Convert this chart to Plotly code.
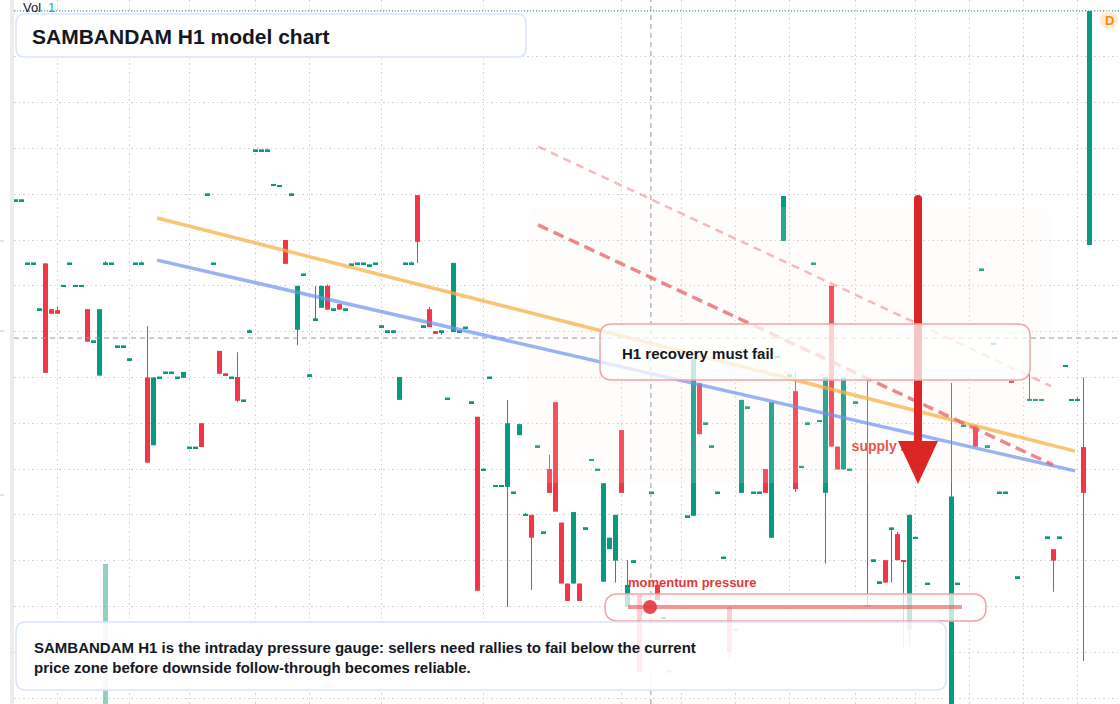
import plotly.graph_objects as go

W, H = 1120, 704
UP, DOWN = "#089981", "#f23645"
FONT = "Liberation Sans, Arial, sans-serif"

# ---- candles (bar index, price; one grid step = 10) ----
# flat bars: open == high == low == close
doji_idx = [1, 2, 3, 4, 5, 9, 10, 11, 12, 14, 17, 18, 19, 20, 21, 25, 26, 27, 28,
            30, 31, 33, 34, 37, 39, 41, 42, 43, 44, 45, 47, 49, 50, 54, 56, 57, 58,
            59, 60, 61, 62, 63, 64, 66, 69, 73, 75, 76, 77, 79, 80, 81, 82, 84, 88,
            89, 96, 97, 98, 104, 107, 109, 113, 116, 117, 118, 119, 121, 123, 124,
            125, 128, 130, 132, 133, 134, 135, 140, 141, 144, 145, 151, 153, 158,
            159, 162, 163, 164, 165, 166, 168, 171, 172, 173, 175, 176, 177]
doji_px = [208.7, 208.7, 194.9, 194.9, 184.9, 190.0, 194.9, 190.0, 190.0, 177.9,
           194.9, 176.8, 176.8, 174.0, 194.9, 170.0, 171.1, 171.1, 170.0,
           154.7, 154.7, 210.0, 194.9, 170.0, 165.0, 219.6, 219.6, 219.6, 212.0,
           211.8, 210.0, 192.5, 170.5, 184.9, 184.9, 194.7, 194.9,
           194.9, 194.5, 194.9, 181.2, 180.1, 180.1, 194.9, 181.2, 165.4, 180.1,
           180.9, 164.6, 149.9, 170.0, 146.3, 146.3, 144.9, 155.0,
           136.2, 137.1, 152.0, 149.9, 129.9, 144.9, 117.5, 139.7, 160.0, 155.0,
           144.9, 130.7, 115.0, 163.5, 144.9,
           144.9, 174.5, 170.5, 150.5, 160.0, 194.9, 160.5, 149.9, 164.6, 130.1,
           125.3, 135.0, 125.0, 125.0,
           159.5, 193.6, 155.0, 177.4, 144.9, 144.9, 126.4, 165.1, 165.1, 135.1,
           135.1, 172.5, 165.1]

bar_idx = [6, 7, 8, 13, 15, 16, 22, 23, 24, 29,
           32, 35, 36, 38, 40, 46, 48, 51, 52, 53,
           55, 65, 67, 68, 70, 71, 72, 74, 78, 83,
           85, 86, 87, 90, 91, 92, 93, 94, 95, 99,
           100, 101, 102, 103, 105, 108, 110, 114, 115, 120,
           122, 126, 127, 129, 131, 136, 137, 138, 139, 143,
           146, 147, 148, 149, 150, 157, 161, 167, 170, 174,
           178, 179, 180]
bar_open = [194.9, 184.9, 184.7, 184.9, 170.4, 194.9, 194.9, 170.0, 155.2, 169.9,
            160.0, 175.8, 170.8, 170.1, 180.1, 200.0, 180.4, 182.7, 185.2, 190.0,
            186.0, 165.1, 194.9, 209.8, 184.9, 180.1, 180.1, 179.9, 161.4, 146.1,
            157.4, 140.0, 140.0, 150.0, 164.6, 138.3, 125.0, 125.0, 125.0, 125.4,
            132.5, 130.0, 158.5, 119.9, 122.5, 124.7, 106.1, 139.8, 168.7, 119.9,
            144.8, 150.0, 135.0, 199.8, 167.0, 144.8, 190.0, 154.9, 149.9, 119.9,
            130.1, 136.9, 135.8, 130.1, 114.9, 97.0, 159.5, 169.3, 165.1, 132.5,
            165.1, 154.8, 198.9]
bar_high = [194.9, 184.9, 185.4, 184.9, 184.9, 195.4, 195.3, 181.2, 170.0, 171.2,
            160.0, 175.8, 170.8, 175.5, 180.5, 200.0, 190.0, 190.0, 190.0, 190.3,
            186.0, 170.1, 195.3, 209.8, 185.4, 180.1, 180.1, 195.0, 161.4, 165.1,
            159.8, 140.4, 140.0, 153.1, 164.6, 138.3, 125.0, 140.6, 125.0, 146.9,
            135.0, 140.0, 158.5, 130.1, 122.5, 124.7, 106.1, 174.2, 168.7, 119.9,
            165.1, 150.0, 164.6, 209.6, 171.2, 170.1, 190.0, 154.9, 170.0, 170.1,
            130.1, 137.2, 136.3, 130.1, 140.0, 168.8, 159.5, 169.3, 172.5, 132.5,
            165.6, 170.0, 250.0]
bar_low = [171.0, 183.9, 183.9, 177.8, 170.4, 194.9, 194.9, 151.4, 155.2, 169.9,
           154.8, 170.8, 170.6, 164.6, 180.1, 194.8, 177.1, 182.7, 185.2, 184.8,
           184.8, 165.1, 194.9, 195.0, 181.0, 179.5, 179.3, 179.9, 123.4, 119.9,
           157.4, 140.0, 123.6, 144.8, 140.7, 125.0, 121.2, 125.0, 121.2, 125.4,
           132.5, 125.2, 144.8, 119.9, 105.7, 121.4, 105.6, 139.8, 157.6, 108.7,
           144.8, 144.8, 135.0, 199.8, 145.0, 129.4, 154.9, 149.9, 149.9, 119.9,
           125.2, 125.2, 130.1, 111.2, 111.4, 97.0, 154.9, 168.8, 165.1, 123.2,
           165.1, 108.1, 198.9]
bar_close = [171.0, 183.9, 183.9, 177.8, 184.9, 194.9, 194.9, 151.4, 170.0, 171.2,
             154.8, 170.8, 170.6, 164.9, 180.1, 194.8, 190.0, 182.7, 190.0, 184.8,
             184.8, 170.1, 194.9, 199.6, 181.0, 179.5, 180.1, 195.0, 123.4, 160.0,
             159.8, 140.0, 135.0, 144.8, 140.7, 125.0, 121.2, 140.6, 121.2, 146.9,
             135.0, 140.0, 144.8, 124.7, 105.7, 121.4, 105.6, 174.2, 157.6, 110.0,
             165.1, 144.8, 164.6, 209.6, 145.6, 170.1, 154.9, 149.9, 170.0, 120.3,
             125.2, 137.2, 130.1, 129.8, 140.0, 144.0, 154.9, 168.8, 165.1, 130.0,
             165.1, 144.8, 250.0]

vol_idx = [16]
vol = [1.0]

time_grid = [8, 20, 30, 41, 50, 62, 79, 102, 112, 121, 130, 141, 151, 160, 169, 178]
last_close = 250.0
cross_idx, cross_px = 106.9, 178.6

# drawings: (bar index, price)
orange_line = [(24.6, 204.8), (177.6, 153.9)]
blue_line = [(24.6, 195.6), (177.6, 149.6)]
red_dash = [(88.1, 203.3), (173.9, 150.9)]
red_dash_light = [(88.1, 220.4), (173.6, 168.1)]

X_RANGE = [0.75, 185.083]
Y_RANGE = [98.7, 252.4]


def px_x(px):
    return (px - 14) / 1106


def px_y(py):
    return 1 - py / 704


def rbox(x0, y0, x1, y1, r):
    def P(x, y):
        return "%.5f,%.5f" % (px_x(x), px_y(y))
    return ("M" + P(x0 + r, y0) + " L" + P(x1 - r, y0) + " Q" + P(x1, y0) + " " + P(x1, y0 + r)
            + " L" + P(x1, y1 - r) + " Q" + P(x1, y1) + " " + P(x1 - r, y1)
            + " L" + P(x0 + r, y1) + " Q" + P(x0, y1) + " " + P(x0, y1 - r)
            + " L" + P(x0, y0 + r) + " Q" + P(x0, y0) + " " + P(x0 + r, y0) + " Z")


idx = bar_idx + doji_idx
o = bar_open + doji_px
h = bar_high + doji_px
l = bar_low + doji_px
c = bar_close + doji_px

base, height, colors = [], [], []
wick = {UP: ([], []), DOWN: ([], [])}
for i, oo, hh, ll, cc in zip(idx, o, h, l, c):
    lo, hi = min(oo, cc), max(oo, cc)
    if hi - lo < 0.4:
        mid = (lo + hi) / 2
        lo, hi = mid - 0.2, mid + 0.2
    col = UP if cc >= oo else DOWN
    base.append(lo)
    height.append(hi - lo)
    colors.append(col)
    if hh - ll > 0.1:
        wick[col][0].extend([i, i, None])
        wick[col][1].extend([ll, hh, None])

fig = go.Figure()
for col, (wx, wy) in wick.items():
    fig.add_trace(go.Scatter(x=wx, y=wy, mode="lines", line=dict(color=col, width=1),
                             hoverinfo="skip", showlegend=False))
fig.add_trace(go.Bar(x=idx, y=height, base=base, width=0.83, marker_color=colors,
                     marker_line_width=0, showlegend=False))
fig.add_trace(go.Bar(x=vol_idx, y=vol, width=0.83, yaxis="y2",
                     marker_color="rgba(8,153,129,0.45)", marker_line_width=0,
                     showlegend=False))
# label sitting under the arrow head
fig.add_trace(go.Scatter(x=[140.35], y=[154.6], mode="text", text=["supply zone"],
                         textposition="middle right",
                         textfont=dict(family=FONT, size=14, color="#e53935", weight=700),
                         showlegend=False, hoverinfo="skip"))

shapes = []
# supply zone
shapes.append(dict(type="path", xref="paper", yref="paper", path=rbox(527, 207, 1052, 483, 18),
                   fillcolor="rgba(255,244,238,0.15)", line_width=0, layer="above"))
# crosshair
shapes.append(dict(type="line", xref="x", yref="paper", x0=cross_idx, x1=cross_idx, y0=0, y1=1,
                   line=dict(color="#9598a1", width=1, dash="5px,4px"), layer="above"))
shapes.append(dict(type="line", xref="paper", yref="y", x0=0, x1=1, y0=cross_px, y1=cross_px,
                   line=dict(color="#9598a1", width=1, dash="5px,4px"), layer="above"))
# last price line
shapes.append(dict(type="line", xref="paper", yref="y", x0=0, x1=1, y0=last_close, y1=last_close,
                   line=dict(color=UP, width=1, dash="1px,2px"), layer="above"))
# trend lines
for pts, col, wd, ds in [(orange_line, "rgba(247,178,70,0.75)", 3.5, "solid"),
                         (blue_line, "rgba(110,145,240,0.7)", 3.5, "solid"),
                         (red_dash, "rgba(232,95,100,0.75)", 3.5, "11px,6px"),
                         (red_dash_light, "rgba(240,140,140,0.6)", 2.5, "8px,6px")]:
    shapes.append(dict(type="line", xref="x", yref="y", x0=pts[0][0], y0=pts[0][1],
                       x1=pts[1][0], y1=pts[1][1], line=dict(color=col, width=wd, dash=ds),
                       layer="above"))
# arrow
shapes.append(dict(type="line", xref="paper", yref="paper", x0=px_x(918), x1=px_x(918),
                   y0=px_y(199), y1=px_y(445), line=dict(color="#dc2626", width=8), layer="above"))
shapes.append(dict(type="circle", xref="paper", yref="paper", x0=px_x(914), x1=px_x(922),
                   y0=px_y(203), y1=px_y(195), fillcolor="#dc2626", line_width=0, layer="above"))
shapes.append(dict(type="path", xref="paper", yref="paper",
                   path="M%.5f,%.5f L%.5f,%.5f L%.5f,%.5f Z" % (px_x(898), px_y(441), px_x(938), px_y(441),
                                                                 px_x(918), px_y(484)),
                   fillcolor="#dc2626", line_width=0, layer="above"))
# H1 box
shapes.append(dict(type="path", xref="paper", yref="paper", path=rbox(600, 324, 1030, 380, 12),
                   fillcolor="rgba(255,255,255,0.74)", line=dict(color="#f2a3a6", width=1.5),
                   layer="above"))
# momentum pill
shapes.append(dict(type="path", xref="paper", yref="paper", path=rbox(605, 594, 986, 621, 13),
                   fillcolor="rgba(255,255,255,0.75)", line=dict(color="#f2a3a6", width=1.5),
                   layer="above"))
shapes.append(dict(type="line", xref="paper", yref="paper", x0=px_x(628), x1=px_x(962),
                   y0=px_y(607), y1=px_y(607), line=dict(color="rgba(232,80,85,0.6)", width=4),
                   layer="above"))
shapes.append(dict(type="circle", xref="paper", yref="paper", x0=px_x(643), x1=px_x(657),
                   y0=px_y(614), y1=px_y(600), fillcolor="rgba(226,56,62,0.9)", line_width=0,
                   layer="above"))
# bottom note box
shapes.append(dict(type="path", xref="paper", yref="paper", path=rbox(16, 622, 946, 690, 10),
                   fillcolor="rgba(255,255,255,0.9)", line=dict(color="#d8e5fb", width=1.5),
                   layer="above"))
# title box
shapes.append(dict(type="path", xref="paper", yref="paper", path=rbox(16, 14, 526, 57, 9),
                   fillcolor="rgba(255,255,255,0.96)", line=dict(color="#d8e5fb", width=1.5),
                   layer="above"))
# left scale strip and ticks
shapes.append(dict(type="rect", xref="paper", yref="paper", x0=px_x(10), x1=px_x(14), y0=0, y1=1,
                   fillcolor="#ececec", line_width=0, layer="above"))
for ty in (241, 331, 495):
    shapes.append(dict(type="line", xref="paper", yref="paper", x0=px_x(0), x1=px_x(4),
                       y0=px_y(ty), y1=px_y(ty), line=dict(color="#c4c4c4", width=1),
                       layer="above"))
# D badge
shapes.append(dict(type="circle", xref="paper", yref="paper", x0=px_x(1100), x1=px_x(1118),
                   y0=px_y(29), y1=px_y(11), fillcolor="#ffebd2", line_width=0, layer="above"))

ann = [
    dict(text="SAMBANDAM H1 model chart", x=px_x(30), y=px_y(36), size=21, color="#131722", bold=True),
    dict(text="SAMBANDAM H1 is the intraday pressure gauge: sellers need rallies to fail below the current"
              "<br>price zone before downside follow-through becomes reliable.",
         x=px_x(32), y=px_y(657), size=15, color="#131722", bold=True),
    dict(text="H1 recovery must fail", x=px_x(620), y=px_y(353), size=15, color="#131722", bold=True),
    dict(text="momentum pressure", x=px_x(626), y=px_y(582), size=13, color="#e53935", bold=True),
    dict(text="Vol", x=px_x(21), y=px_y(8), size=13, color="#131722", bold=False),
    dict(text="1", x=px_x(46), y=px_y(8), size=13, color="#22ab94", bold=False),
]
annotations = [dict(xref="paper", yref="paper", x=a["x"], y=a["y"], text=a["text"],
                    xanchor="left", yanchor="middle", align="left", showarrow=False,
                    font=dict(family=FONT, size=a["size"], color=a["color"],
                              weight=700 if a["bold"] else 400))
               for a in ann]
annotations.append(dict(xref="paper", yref="paper", x=px_x(1109), y=px_y(20), text="D",
                        xanchor="center", yanchor="middle", showarrow=False,
                        font=dict(family=FONT, size=13, color="#f7890c", weight=700)))

fig.update_layout(
    width=W, height=H,
    margin=dict(l=14, r=0, t=0, b=0),
    paper_bgcolor="white", plot_bgcolor="white",
    barmode="overlay", showlegend=False, hovermode=False,
    shapes=shapes, annotations=annotations,
    xaxis=dict(range=X_RANGE, tickvals=time_grid, showticklabels=False, ticks="",
               showgrid=True, gridcolor="#d2d2d2", griddash="1.5px,3px", zeroline=False,
               showline=False, fixedrange=True),
    yaxis=dict(range=Y_RANGE, tick0=100, dtick=10, showticklabels=False, ticks="",
               showgrid=True, gridcolor="#d2d2d2", griddash="1.5px,3px", zeroline=False,
               showline=False, fixedrange=True),
    yaxis2=dict(overlaying="y", range=[0, 5.03], visible=False, fixedrange=True),
)

# page body margin would push the 1120x704 figure off the window
fig.write_html("out.html", config={"displayModeBar": False},
               post_script="document.body.style.margin='0';document.body.style.overflow='hidden';")
